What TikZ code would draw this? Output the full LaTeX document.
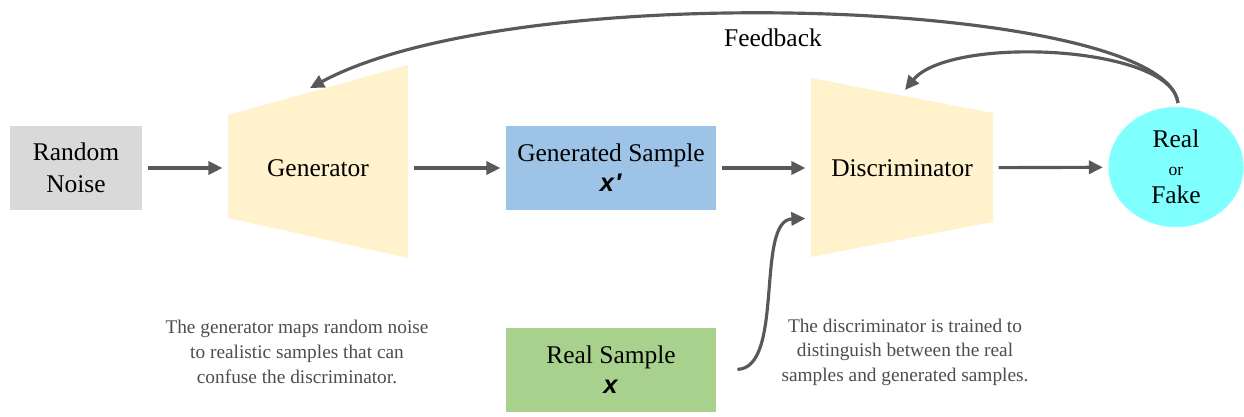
\documentclass[tikz,border=0pt]{standalone}
\usepackage{fontspec}
\setmainfont{Liberation Serif}
\setsansfont{Liberation Sans}
\usetikzlibrary{arrows.meta,shapes.geometric}

\definecolor{noisegray}{HTML}{D9D9D9}
\definecolor{trapyellow}{HTML}{FFF2CC}
\definecolor{genblue}{HTML}{9DC3E6}
\definecolor{realgreen}{HTML}{A9D18E}
\definecolor{outcyan}{HTML}{80FFFF}
\definecolor{arrowgray}{HTML}{595959}
\definecolor{notegray}{HTML}{4D4D4D}

\newcommand{\vecx}{\textsf{\bfseries\itshape x}}

\begin{document}
\begin{tikzpicture}[x=0.02cm,y=-0.02cm,
  block/.style={rectangle, inner sep=0pt, minimum width=4.2cm, minimum height=1.7cm,
                align=center, font=\fontsize{14.5}{18}\selectfont},
  trap/.style={rectangle, inner sep=0pt, minimum width=3.6cm, minimum height=2cm,
               font=\fontsize{14.5}{18}\selectfont},
  note/.style={align=center, text=notegray, font=\fontsize{11}{14}\selectfont},
  arr/.style={draw=arrowgray, line width=1.8pt, -{Triangle[length=8pt,width=7.5pt]},
              shorten <=3pt, shorten >=3pt}]

\useasboundingbox (0,0) rectangle (1244,416);

% trapezoids
\fill[trapyellow] (228,115) -- (408,65) -- (408,258) -- (228,218) -- cycle;
\fill[trapyellow] (811,78) -- (993,113) -- (993,222) -- (811,257) -- cycle;

\node[block, fill=noisegray, minimum width=2.66cm] (noise) at (76,168) {Random\\Noise};
\node[trap] (gen) at (318,168) {Generator};
\node[block, fill=genblue] (gensample) at (611,168) {Generated Sample\\[-1pt]\textsf{\bfseries\itshape x\kern0.5pt′}};
\node[trap, minimum width=3.64cm] (disc) at (902,168) {Discriminator};
\node[ellipse, fill=outcyan, inner sep=0pt, minimum width=2.7cm, minimum height=2.4cm,
      align=center, font=\fontsize{14.5}{17}\selectfont] (out) at (1176,167)
      {Real\\[-1pt]{\fontsize{10}{12}\selectfont or}\\[-1pt]Fake};
\node[block, fill=realgreen] (realsample) at (611,370) {Real Sample\\[-1pt]\vecx};

\node[font=\fontsize{14.5}{18}\selectfont] (fb) at (773,38) {Feedback};
\node[note] (gennote) at (297,352)
  {The generator maps random noise\\to realistic samples that can\\confuse the discriminator.};
\node[note] (discnote) at (905,352)
  {The discriminator is trained to\\distinguish between the real\\samples and generated samples.};

\coordinate (genfb) at (310,88);
\coordinate (discfb) at (905,90);
\coordinate (outtop) at (1178,103);

\draw[arr] (noise) -- (gen);
\draw[arr] (gen) -- (gensample);
\draw[arr] (gensample) -- (disc);
\draw[arr] (disc) -- (out);
\draw[arr, shorten <=0pt, shorten >=0pt] (outtop) .. controls (1165,0) and (520,-25) .. (genfb);
\draw[arr, shorten <=0pt, shorten >=0pt] (outtop) .. controls (1172,45) and (950,35) .. (discfb);
\draw[arr, shorten <=12pt] (realsample.east) .. controls (785,368) and (755,220) .. (disc.south west);
\end{tikzpicture}
\end{document}
